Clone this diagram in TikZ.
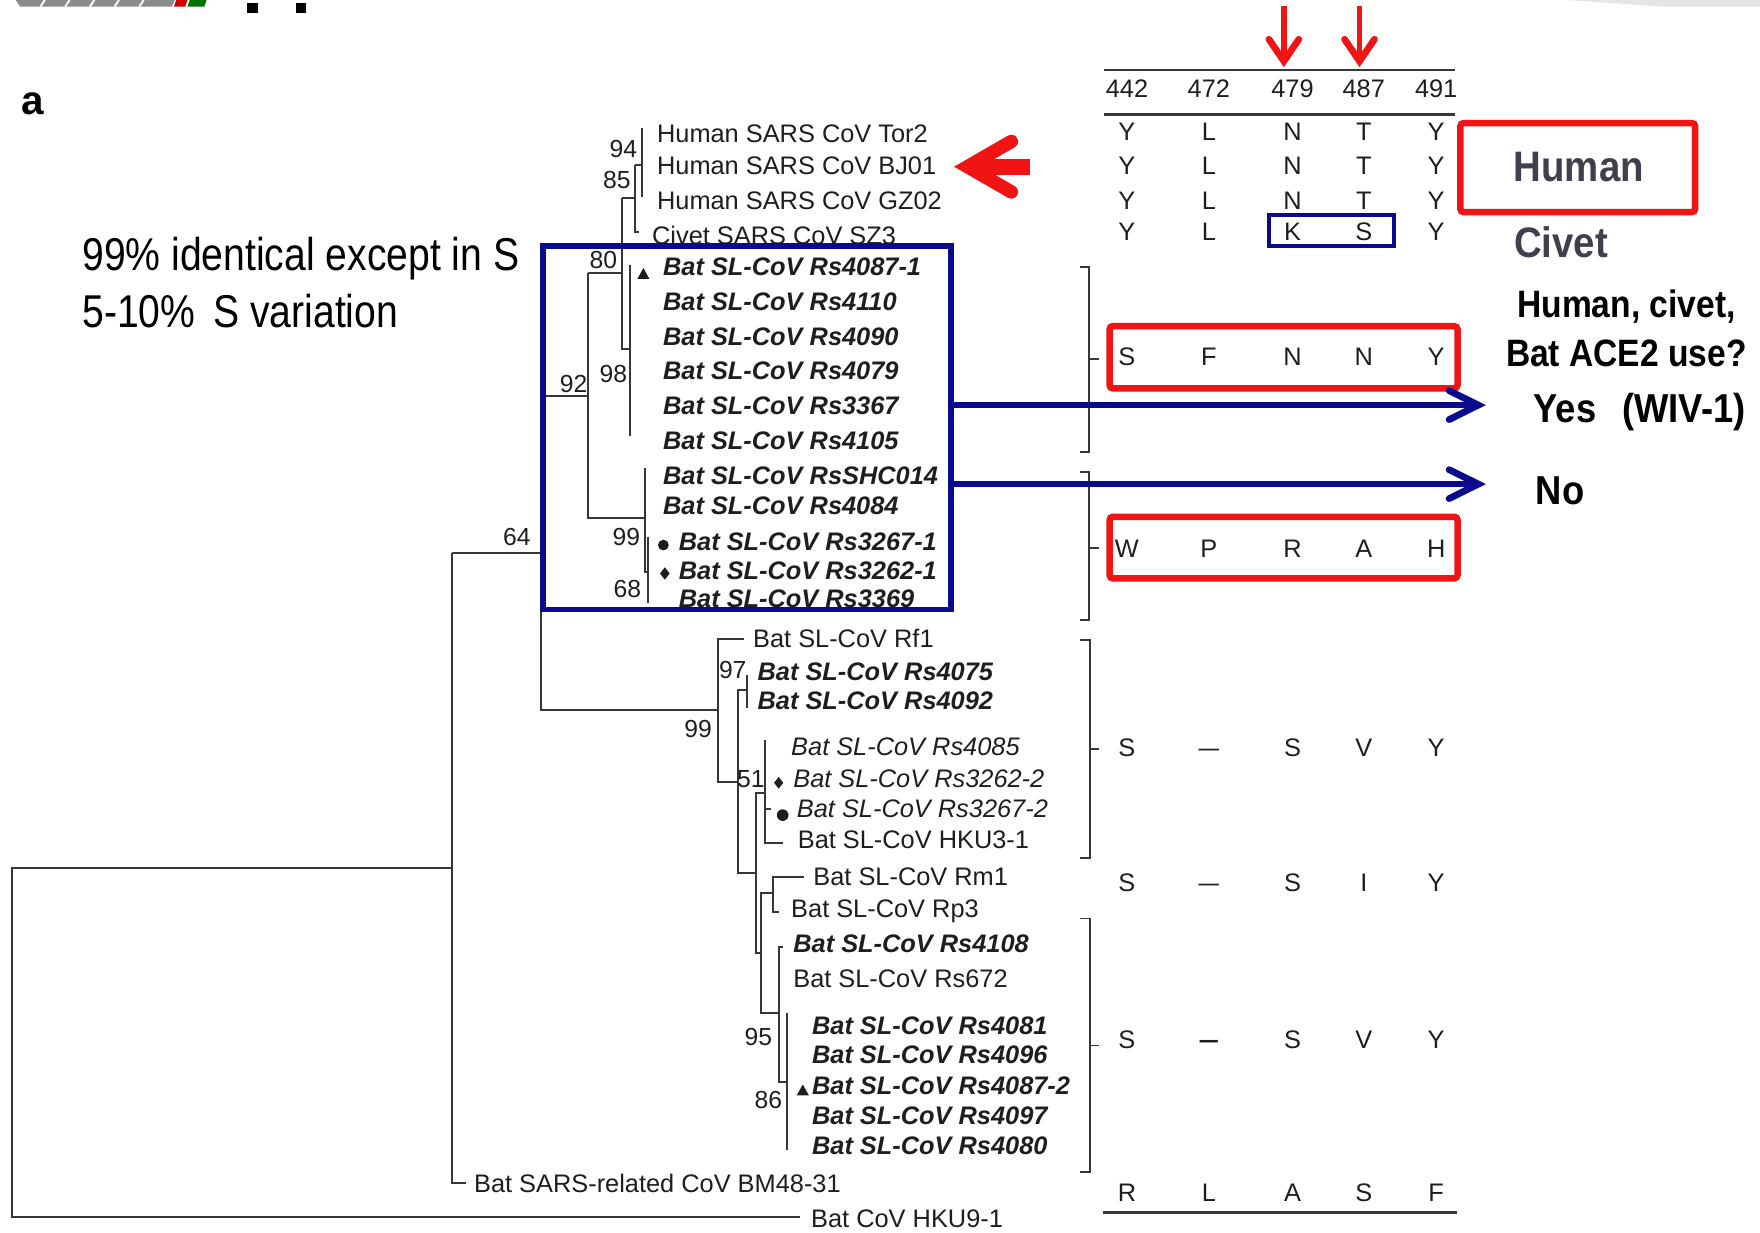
\documentclass[tikz,border=0pt]{standalone}
\usepackage{fontspec}
\usepackage{graphicx}
\setmainfont{Liberation Sans}
\newfontfamily\annfont[FakeStretch=0.85]{Liberation Sans}
\newfontfamily\annbfont[FakeStretch=0.9]{Liberation Sans}
\newfontfamily\qfont[FakeStretch=0.88]{Liberation Sans}
\definecolor{navy}{RGB}{10,10,140}
\definecolor{myred}{RGB}{240,20,20}
\definecolor{treeg}{RGB}{55,55,55}
\definecolor{txt}{RGB}{30,30,30}
\definecolor{hgray}{RGB}{62,64,78}
\newcommand\aarow[7]{%
  \node[aa] (#1a) at (1004,#2) {#3};
  \node[aa] (#1b) at (1077,#2) {#4};
  \node[aa] (#1c) at (1151.5,#2) {#5};
  \node[aa] (#1d) at (1215,#2) {#6};
  \node[aa] (#1e) at (1279.5,#2) {#7};}
\begin{document}
\begin{tikzpicture}[x=0.5pt,y=-0.5pt,
  branch/.style={draw=treeg, line width=0.9pt},
  lab/.style={anchor=base west, inner sep=0pt, yshift=-4.05pt, text=txt, font=\fontsize{11.3}{13}\selectfont},
  labbi/.style={lab, font=\fontsize{11.3}{13}\selectfont\bfseries\itshape},
  labi/.style={lab, font=\fontsize{11.3}{13}\selectfont\itshape},
  bootv/.style={anchor=base, inner sep=0pt, yshift=-3.95pt, text=txt, font=\fontsize{11}{13}\selectfont},
  aa/.style={anchor=base, inner sep=0pt, yshift=-4.05pt, text=txt, font=\fontsize{11.3}{13}\selectfont},
  tline/.style={draw=treeg, line width=1.2pt},
  redbox/.style={draw=myred, line width=2.9pt, rounded corners=1.5pt},
  bluebox/.style={draw=navy, line width=2.5pt},
  bluearrow/.style={draw=navy, line width=2.9pt},
  chev/.style={line width=3pt, line cap=round, line join=miter},
  bracket/.style={draw=treeg, line width=0.8pt},
  big/.style={anchor=base west, inner sep=0pt, yshift=-7.34pt, text=black, font=\annfont\fontsize{20.5}{24}\selectfont},
  smark/.style={fill=txt}
]
\fill[white] (0,0) rectangle (1568,1098);
\useasboundingbox (0,0) rectangle (1568,1098);

% cropped slide fragments at the top
\fill[black!45] (14,0) -- (156,0) -- (153,6) -- (18,6) -- cycle;
\foreach \u in {40,62,84,106,128} {\draw[white, line width=0.8pt] (\u,0) -- (\u-4,6);}
\fill[red!80!black] (157,0) -- (167,0) -- (165,6) -- (155,6) -- cycle;
\fill[green!45!black] (169,0) -- (184,0) -- (182,6) -- (167,6) -- cycle;
\fill[black] (220,3) rectangle (230,12);
\fill[black] (264,3) rectangle (273,12);
\fill[black!10] (1396,0) -- (1568,0) -- (1568,6) -- (1482,6) -- (1440,3) -- cycle;

% panel letter
\node[anchor=base west, inner sep=0pt, font=\bfseries\fontsize{18}{20}\selectfont] (panel) at (18.5,102) {a};

% ---------------- tree ----------------
\draw[branch] (571.7,114.3) -- (571.7,175.2);
\draw[branch] (565.8,147) -- (571.7,147);
\draw[branch] (565.8,147) -- (565.8,206.4) -- (569.5,206.4);
\draw[branch] (553.9,176.5) -- (565.8,176.5);
\draw[branch] (553.9,176.5) -- (553.9,311) -- (561.3,311);
\draw[branch] (561.3,236) -- (561.3,388);
\draw[branch] (524.2,243.5) -- (553.9,243.5);
\draw[branch] (524.2,243.5) -- (524.2,461.9) -- (574.7,461.9);
\draw[branch] (481.6,352.5) -- (524.2,352.5);
\draw[branch] (574.7,417.3) -- (574.7,509.4) -- (577.7,509.4);
\draw[branch] (577.7,478.2) -- (577.7,537.6);
\draw[branch] (403,493) -- (481.6,493);
\draw[branch] (481.6,352.5) -- (481.6,632.6) -- (639.6,632.6);
\draw[branch] (662.7,569.6) -- (639.6,569.6) -- (639.6,696.5) -- (657.5,696.5);
\draw[branch] (665.5,614.8) -- (657.5,614.8) -- (657.5,778.1) -- (673.4,778.1);
\draw[branch] (665.5,601.4) -- (665.5,631.1);
\draw[branch] (681.8,706.9) -- (673.4,706.9) -- (673.4,849.4) -- (677.8,849.4);
\draw[branch] (681.8,659.3) -- (681.8,751.4) -- (697.7,751.4);
\draw[branch] (681.8,721) -- (686.6,721);
\draw[branch] (688.5,796) -- (677.8,796) -- (677.8,902.9) -- (693.7,902.9);
\draw[branch] (716.4,781.1) -- (688.5,781.1) -- (688.5,812.3) -- (693.7,812.3);
\draw[branch] (697.7,843.5) -- (693.7,843.5) -- (693.7,963.8) -- (700.9,963.8);
\draw[branch] (700.9,902.3) -- (700.9,1024.7);
\draw[branch] (403,773) -- (11,773) -- (11,1084.1) -- (712.4,1084.1);
\draw[branch] (403,493) -- (403,1054.3) -- (415.3,1054.3);

% leaf labels
\node[lab] (tor2) at (585,118.8) {Human SARS CoV Tor2};
\node[lab] (bj01) at (585,147.5) {Human SARS CoV BJ01};
\node[lab] (gz02) at (585,178.2) {Human SARS CoV GZ02};
\node[lab] (sz3) at (580.6,209.4) {Civet SARS CoV SZ3};
\node[labbi] (rsa) at (590.4,237.6) {Bat SL-CoV Rs4087-1};
\node[labbi] (rsb) at (590.4,268.8) {Bat SL-CoV Rs4110};
\node[labbi] (rsc) at (590.4,300) {Bat SL-CoV Rs4090};
\node[labbi] (rsd) at (590.4,329.7) {Bat SL-CoV Rs4079};
\node[labbi] (rse) at (590.4,360.9) {Bat SL-CoV Rs3367};
\node[labbi] (rsf) at (590.4,392) {Bat SL-CoV Rs4105};
\node[labbi] (rsg) at (590.4,423.3) {Bat SL-CoV RsSHC014};
\node[labbi] (rsh) at (590.4,450) {Bat SL-CoV Rs4084};
\node[labbi] (rsi) at (604.4,482.6) {Bat SL-CoV Rs3267-1};
\node[labbi] (rsj) at (604.4,507.9) {Bat SL-CoV Rs3262-1};
\node[labbi] (rsk) at (604.4,533) {Bat SL-CoV Rs3369};
\node[lab] (rf1) at (670.6,568.8) {Bat SL-CoV Rf1};
\node[labbi] (r4075) at (674.6,598.5) {Bat SL-CoV Rs4075};
\node[labbi] (r4092) at (674.6,623.7) {Bat SL-CoV Rs4092};
\node[labi] (r4085) at (704.5,665.3) {Bat SL-CoV Rs4085};
\node[labi] (r32622) at (706.4,693.5) {Bat SL-CoV Rs3262-2};
\node[labi] (r32672) at (709.6,720.2) {Bat SL-CoV Rs3267-2};
\node[lab] (hku3) at (710.4,747.8) {Bat SL-CoV HKU3-1};
\node[lab] (rm1) at (724.3,780.5) {Bat SL-CoV Rm1};
\node[lab] (rp3) at (704.5,809.3) {Bat SL-CoV Rp3};
\node[labbi] (r4108) at (706.4,840.5) {Bat SL-CoV Rs4108};
\node[lab] (r672) at (706.4,871.7) {Bat SL-CoV Rs672};
\node[labbi] (r4081) at (723.1,913.3) {Bat SL-CoV Rs4081};
\node[labbi] (r4096) at (723.1,939.1) {Bat SL-CoV Rs4096};
\node[labbi] (r40872) at (723.1,966.7) {Bat SL-CoV Rs4087-2};
\node[labbi] (r4097) at (723.1,993.5) {Bat SL-CoV Rs4097};
\node[labbi] (r4080) at (723.1,1020.2) {Bat SL-CoV Rs4080};
\node[lab] (bm48) at (422,1054.3) {Bat SARS-related CoV BM48-31};
\node[lab] (hku9) at (722.3,1085.5) {Bat CoV HKU9-1};

% sample markers
\fill[smark] (567.8,248.5) -- (578.6,248.5) -- (573.2,238.8) -- cycle;
\fill[smark] (709.8,975.8) -- (720.6,975.8) -- (715.2,966.2) -- cycle;
\fill[smark] (591,485.6) circle[radius=2.4pt];
\fill[smark] (697.3,726.2) circle[radius=2.6pt];
\fill[smark] (592.3,505.4) -- (596.6,510.9) -- (592.3,516.4) -- (588,510.9) -- cycle;
\fill[smark] (693.7,692.2) -- (697.8,697.4) -- (693.7,702.6) -- (689.6,697.4) -- cycle;

% bootstrap values
\node[bootv] (b94) at (555.4,132.2) {94};
\node[bootv] (b85) at (549.5,160.4) {85};
\node[bootv] (b80) at (537.6,231.6) {80};
\node[bootv] (b98) at (546.5,332.6) {98};
\node[bootv] (b92) at (511,341.5) {92};
\node[bootv] (b64) at (460.4,478.2) {64};
\node[bootv] (b99a) at (558,478) {99};
\node[bootv] (b68) at (559,524) {68};
\node[bootv] (b97) at (652.8,597) {97};
\node[bootv] (b99b) at (622,649) {99};
\node[bootv] (b51) at (669,693.5) {51};
\node[bootv] (b95) at (675.6,923.1) {95};
\node[bootv] (b86) at (684.5,980.1) {86};

% clade box
\coordinate (cbl) at (483.8,543.1);
\coordinate (ctr) at (847.5,219.4);
\draw[bluebox] (cbl) rectangle (ctr);

% ---------------- residue table ----------------
\coordinate (tl1) at (983.5,62.4); \coordinate (tr1) at (1296.4,62.4);
\coordinate (tl2) at (983.5,102);  \coordinate (tr2) at (1296.4,102);
\coordinate (tl3) at (983,1080.4); \coordinate (tr3) at (1297.8,1080.4);
\draw[tline] (tl1) -- (tr1);
\draw[tline] (tl2) -- (tr2);
\draw[tline] (tl3) -- (tr3);
\aarow{h}{78.7}{442}{472}{479}{487}{491}
\aarow{ra}{117.3}{Y}{L}{N}{T}{Y}
\aarow{rb}{147}{Y}{L}{N}{T}{Y}
\aarow{rc}{178.2}{Y}{L}{N}{T}{Y}
\aarow{rd}{206.4}{Y}{L}{K}{S}{Y}
\aarow{re}{317.8}{S}{F}{N}{N}{Y}
\aarow{rf}{488.6}{W}{P}{R}{A}{H}
\aarow{rg}{665.7}{S}{\scalebox{1.45}[1]{–}}{S}{V}{Y}
\aarow{rh}{785.9}{S}{\scalebox{1.45}[1]{–}}{S}{I}{Y}
\aarow{ri}{925.6}{S}{\scalebox{1.45}[1]{\bfseries –}}{S}{V}{Y}
\aarow{rj}{1062}{R}{L}{A}{S}{F}

% brackets
\draw[bracket] (962,238) -- (970,238) -- (970,402.5) -- (962,402.5);
\draw[bracket] (970,320) -- (979,320);
\draw[bracket] (962,420.3) -- (970,420.3) -- (970,552.6) -- (962,552.6);
\draw[bracket] (970,488) -- (979,488);
\draw[bracket] (962.3,570.5) -- (971.2,570.5) -- (971.2,764.4) -- (962.3,764.4);
\draw[bracket] (971.2,667.5) -- (979.5,667.5);
\draw[bracket] (962.3,818.3) -- (971.2,818.3) -- (971.2,1043.8) -- (962.3,1043.8);
\draw[bracket] (971.2,931.4) -- (979.5,931.4);

% highlight boxes
\draw[draw=navy, line width=1.8pt] (1130.2,191.3) rectangle (1241.7,219.5);
\draw[redbox] (1301,109.6) rectangle (1510.2,189);
\draw[redbox] (988.5,290.5) rectangle (1298.5,346);
\draw[redbox] (988.5,460.4) rectangle (1298.5,515.3);

% red arrows on 479 and 487
\coordinate (a1s) at (1143.8,5); \coordinate (a1t) at (1143.8,54.5);
\coordinate (a2s) at (1211.2,5); \coordinate (a2t) at (1211.2,54.5);
\draw[myred, line width=2.6pt] (a1s) -- (a1t);
\draw[myred, line width=2.6pt] (a2s) -- (a2t);
\draw[myred, chev] (1130.5,35) -- (a1t) -- (1157.1,35);
\draw[myred, chev] (1197.9,35) -- (a2t) -- (1224.5,35);

% big red arrow to BJ01
\coordinate (rat) at (862,148.5);
\draw[myred, line width=7pt] (870,148.9) -- (917.7,148.9);
\draw[myred, line width=6pt, line cap=round, line join=miter] (901,126) -- (rat) -- (901,171);

% blue arrows
\coordinate (y1s) at (847.5,360.9); \coordinate (y1t) at (1317,360.9);
\coordinate (y2s) at (847.5,431.3); \coordinate (y2t) at (1317,431.3);
\draw[bluearrow] (y1s) -- (y1t);
\draw[bluearrow] (y2s) -- (y2t);
\draw[navy, chev] (1291,348) -- (y1t) -- (1291,373.8);
\draw[navy, chev] (1291,418.4) -- (y2t) -- (1291,444.2);

% annotations
\node[big] (t99) at (73,226) {99\% identical except in S};
\node[big] (t510) at (73,277) {5-10\%\hspace{8pt}S variation};
\node[anchor=base, inner sep=0pt, yshift=-6.8pt, text=hgray, font=\annbfont\bfseries\fontsize{19}{22}\selectfont] (human) at (1406.6,148) {Human};
\node[anchor=base west, inner sep=0pt, yshift=-6.8pt, text=hgray, font=\annbfont\bfseries\fontsize{19}{22}\selectfont] (civet) at (1348.6,216) {Civet};
\node[anchor=base, inner sep=0pt, yshift=-6.1pt, font=\qfont\bfseries\fontsize{17}{19}\selectfont] (q1) at (1449,270.3) {Human, civet,};
\node[anchor=base, inner sep=0pt, yshift=-6.1pt, font=\qfont\bfseries\fontsize{17}{19}\selectfont] (q2) at (1449,314.5) {Bat ACE2 use?};
\node[anchor=base west, inner sep=0pt, yshift=-6.45pt, font=\annbfont\bfseries\fontsize{18}{21}\selectfont] (yes) at (1366,363.8) {Yes\hspace{11.5pt}(WIV-1)};
\node[anchor=base west, inner sep=0pt, yshift=-6.45pt, font=\annbfont\bfseries\fontsize{18}{21}\selectfont] (no) at (1368,436.6) {No};
\end{tikzpicture}
\end{document}
